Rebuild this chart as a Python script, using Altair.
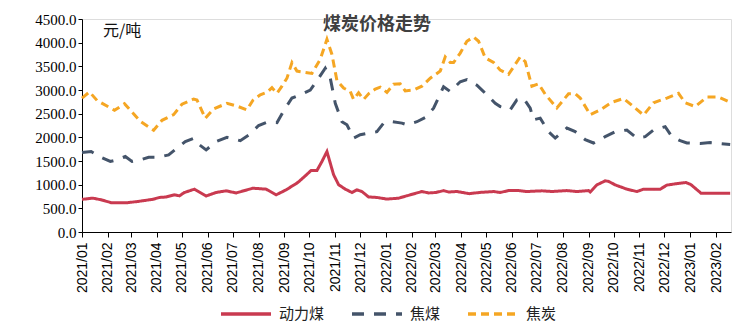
import altair as alt
import pandas as pd

series_names = ["动力煤", "焦煤", "焦炭"]
series_colors = ["#C93A50", "#44546A", "#F5A623"]
series_dashes = [[1, 0], [12, 10], [8, 5]]

thermal_dates = ["2021-01-01", "2021-01-14", "2021-01-24", "2021-02-05", "2021-02-25", "2021-03-09",
                 "2021-03-27", "2021-04-04", "2021-04-12", "2021-04-22", "2021-04-28", "2021-05-04",
                 "2021-05-16", "2021-05-30", "2021-06-11", "2021-06-23", "2021-07-05", "2021-07-25",
                 "2021-08-10", "2021-08-22", "2021-09-03", "2021-09-17", "2021-09-25", "2021-10-03",
                 "2021-10-10", "2021-10-16", "2021-10-22", "2021-10-30", "2021-11-05", "2021-11-13",
                 "2021-11-21", "2021-11-27", "2021-12-03", "2021-12-11", "2021-12-21", "2022-01-02",
                 "2022-01-16", "2022-01-26", "2022-02-13", "2022-02-21", "2022-03-02", "2022-03-11",
                 "2022-03-17", "2022-03-27", "2022-04-11", "2022-04-23", "2022-05-10", "2022-05-18",
                 "2022-05-28", "2022-06-09", "2022-06-19", "2022-07-07", "2022-07-19", "2022-08-06",
                 "2022-08-18", "2022-09-01", "2022-09-03", "2022-09-11", "2022-09-21", "2022-09-25",
                 "2022-10-03", "2022-10-17", "2022-10-29", "2022-11-06", "2022-11-26", "2022-12-04",
                 "2022-12-17", "2022-12-27", "2023-01-02", "2023-01-14", "2023-02-18"]
thermal_values = [690, 715, 680, 620, 620, 645,
                  690, 730, 740, 785, 765, 835,
                  905, 760, 835, 870, 825, 925,
                  905, 785, 890, 1045, 1170, 1300,
                  1300, 1490, 1700, 1210, 1000, 905,
                  835, 890, 855, 740, 730, 695,
                  715, 765, 855, 825, 835, 875,
                  845, 855, 810, 835, 855, 835,
                  875, 875, 855, 870, 855, 875,
                  855, 875, 845, 995, 1080, 1070,
                  995, 905, 855, 905, 905, 990,
                  1025, 1045, 1000, 820, 820]

coking_dates = ["2021-01-01", "2021-01-12", "2021-01-22", "2021-02-04", "2021-02-12", "2021-02-22",
                "2021-03-02", "2021-03-12", "2021-03-22", "2021-04-03", "2021-04-15", "2021-04-25",
                "2021-05-05", "2021-05-15", "2021-05-22", "2021-05-30", "2021-06-11", "2021-06-24",
                "2021-07-10", "2021-07-21", "2021-08-01", "2021-08-11", "2021-08-23", "2021-08-31",
                "2021-09-10", "2021-09-20", "2021-10-02", "2021-10-12", "2021-10-20", "2021-10-26",
                "2021-11-01", "2021-11-09", "2021-11-15", "2021-11-23", "2021-12-01", "2021-12-11",
                "2021-12-21", "2021-12-29", "2022-01-08", "2022-01-20", "2022-01-26", "2022-02-07",
                "2022-02-17", "2022-02-27", "2022-03-11", "2022-03-19", "2022-03-31", "2022-04-08",
                "2022-04-20", "2022-04-28", "2022-05-12", "2022-05-18", "2022-05-30", "2022-06-07",
                "2022-06-15", "2022-06-23", "2022-06-27", "2022-07-05", "2022-07-15", "2022-07-23",
                "2022-08-06", "2022-08-16", "2022-08-28", "2022-09-07", "2022-09-21", "2022-10-03",
                "2022-10-17", "2022-10-29", "2022-11-08", "2022-11-18", "2022-12-02", "2022-12-10",
                "2022-12-20", "2022-12-28", "2023-01-13", "2023-01-25", "2023-02-18"]
coking_values = [1680, 1700, 1595, 1490, 1525, 1595,
                 1490, 1525, 1580, 1580, 1630, 1770,
                 1910, 1980, 1840, 1735, 1910, 2000,
                 1930, 2060, 2250, 2320, 2310, 2560,
                 2830, 2900, 3000, 3250, 3460, 3250,
                 2720, 2330, 2265, 1985, 2055, 2090,
                 2120, 2300, 2330, 2300, 2265, 2330,
                 2420, 2615, 3070, 2967, 3175, 3220,
                 3100, 2967, 2720, 2650, 2580, 2790,
                 2825, 2615, 2370, 2405, 2120, 1985,
                 2195, 2120, 1950, 1880, 2015, 2120,
                 2155, 1985, 2015, 2155, 2225, 2015,
                 1930, 1880, 1870, 1890, 1850]

coke_dates = ["2021-01-01", "2021-01-10", "2021-01-19", "2021-02-09", "2021-02-21", "2021-03-12",
              "2021-03-28", "2021-04-07", "2021-04-21", "2021-05-01", "2021-05-15", "2021-05-19",
              "2021-05-29", "2021-06-08", "2021-06-24", "2021-07-06", "2021-07-18", "2021-07-25",
              "2021-08-03", "2021-08-11", "2021-08-17", "2021-08-23", "2021-08-29", "2021-09-04",
              "2021-09-10", "2021-09-16", "2021-09-23", "2021-10-04", "2021-10-14", "2021-10-22",
              "2021-10-28", "2021-11-03", "2021-11-11", "2021-11-19", "2021-11-23", "2021-11-29",
              "2021-12-05", "2021-12-11", "2021-12-19", "2021-12-25", "2022-01-02", "2022-01-10",
              "2022-01-18", "2022-01-24", "2022-02-03", "2022-02-13", "2022-02-23", "2022-03-07",
              "2022-03-13", "2022-03-19", "2022-03-23", "2022-03-31", "2022-04-08", "2022-04-16",
              "2022-04-22", "2022-04-30", "2022-05-10", "2022-05-18", "2022-05-28", "2022-06-11",
              "2022-06-17", "2022-06-25", "2022-07-03", "2022-07-11", "2022-07-25", "2022-08-08",
              "2022-08-16", "2022-08-22", "2022-09-03", "2022-09-15", "2022-09-29", "2022-10-13",
              "2022-10-25", "2022-11-06", "2022-11-18", "2022-12-04", "2022-12-18", "2022-12-26",
              "2023-01-07", "2023-01-21", "2023-02-04", "2023-02-18"]
coke_values = [2830, 2960, 2780, 2570, 2710, 2340,
               2150, 2360, 2480, 2700, 2810, 2790,
               2400, 2600, 2720, 2660, 2580, 2780,
               2900, 2950, 3050, 2930, 3080, 3250,
               3580, 3400, 3380, 3350, 3650, 4070,
               3750, 3200, 3040, 2970, 2800, 2940,
               2800, 2920, 3020, 3060, 2950, 3120,
               3130, 2980, 3000, 3080, 3250, 3400,
               3700, 3580, 3580, 3780, 4030, 4120,
               4030, 3680, 3580, 3420, 3330, 3700,
               3600, 3080, 3130, 2910, 2620, 2920,
               2920, 2830, 2480, 2580, 2740, 2820,
               2650, 2470, 2730, 2830, 2930, 2730,
               2650, 2850, 2850, 2740]

y_ticks = [0, 500, 1000, 1500, 2000, 2500, 3000, 3500, 4000, 4500]

frames = []
for name, d, v in [(series_names[0], thermal_dates, thermal_values),
                   (series_names[1], coking_dates, coking_values),
                   (series_names[2], coke_dates, coke_values)]:
    frames.append(pd.DataFrame({"date": d, "value": v, "series": name}))
df = pd.concat(frames, ignore_index=True)

legend_spec = dict(
    title=None, orient="none", legendX=137, legendY=268, direction="horizontal",
    symbolType="stroke", symbolSize=2500, symbolStrokeWidth=3.5,
    labelFont="Noto Sans CJK SC", labelFontSize=15, labelColor="#222222",
    columnPadding=20, labelOffset=6,
)

x_enc = alt.X(
    "date:T",
    scale=alt.Scale(type="utc",
                    domain=[alt.DateTime(year=2021, month=1, date=1, utc=True),
                            alt.DateTime(year=2023, month=2, date=19, utc=True)]),
    axis=alt.Axis(title=None, format="%Y/%m", tickCount={"interval": "month", "step": 1},
                  labelAngle=-90, labelAlign="right", labelBaseline="middle",
                  labelFont="Liberation Sans", labelFontSize=14, labelColor="#000000",
                  labelPadding=5, tickSize=5, tickColor="#000000", domainColor="#000000",
                  grid=False, labelOverlap=False),
)
y_enc = alt.Y(
    "value:Q",
    scale=alt.Scale(domain=[0, 4500], nice=False),
    axis=alt.Axis(title=None, values=y_ticks, format=".1f", labelFont="Liberation Serif",
                  labelFontSize=15, labelColor="#000000", labelPadding=2, tickSize=4,
                  tickColor="#000000", domainColor="#000000", grid=False),
)

lines = alt.Chart(df).mark_line(strokeWidth=3).encode(
    x=x_enc,
    y=y_enc,
    color=alt.Color("series:N", scale=alt.Scale(domain=series_names, range=series_colors),
                    legend=alt.Legend(**legend_spec)),
    strokeDash=alt.StrokeDash("series:N", scale=alt.Scale(domain=series_names, range=series_dashes),
                              legend=alt.Legend(**legend_spec)),
    order=alt.Order("date:T"),
)

title_df = pd.DataFrame({"t": ["煤炭价格走势"]})
unit_df = pd.DataFrame({"t": ["元/吨"]})

title_text = alt.Chart(title_df).mark_text(
    font="Noto Sans CJK SC", fontSize=18, fontWeight="bold", color="#404040", align="center",
    baseline="middle",
).encode(text="t:N", x=alt.value(295), y=alt.value(6))

unit_text = alt.Chart(unit_df).mark_text(
    font="Noto Sans CJK SC", fontSize=16, color="#111111", align="left", baseline="middle",
).encode(text="t:N", x=alt.value(21), y=alt.value(12))

chart = alt.layer(lines, title_text, unit_text).properties(
    width=649, height=213,
    autosize=alt.AutoSizeParams(type="none"),
    padding={"left": 82, "top": 19, "right": 22, "bottom": 93},
).configure_view(stroke=None).configure(background="white")

chart.save("out.html", embed_options={"renderer": "svg", "actions": False})
